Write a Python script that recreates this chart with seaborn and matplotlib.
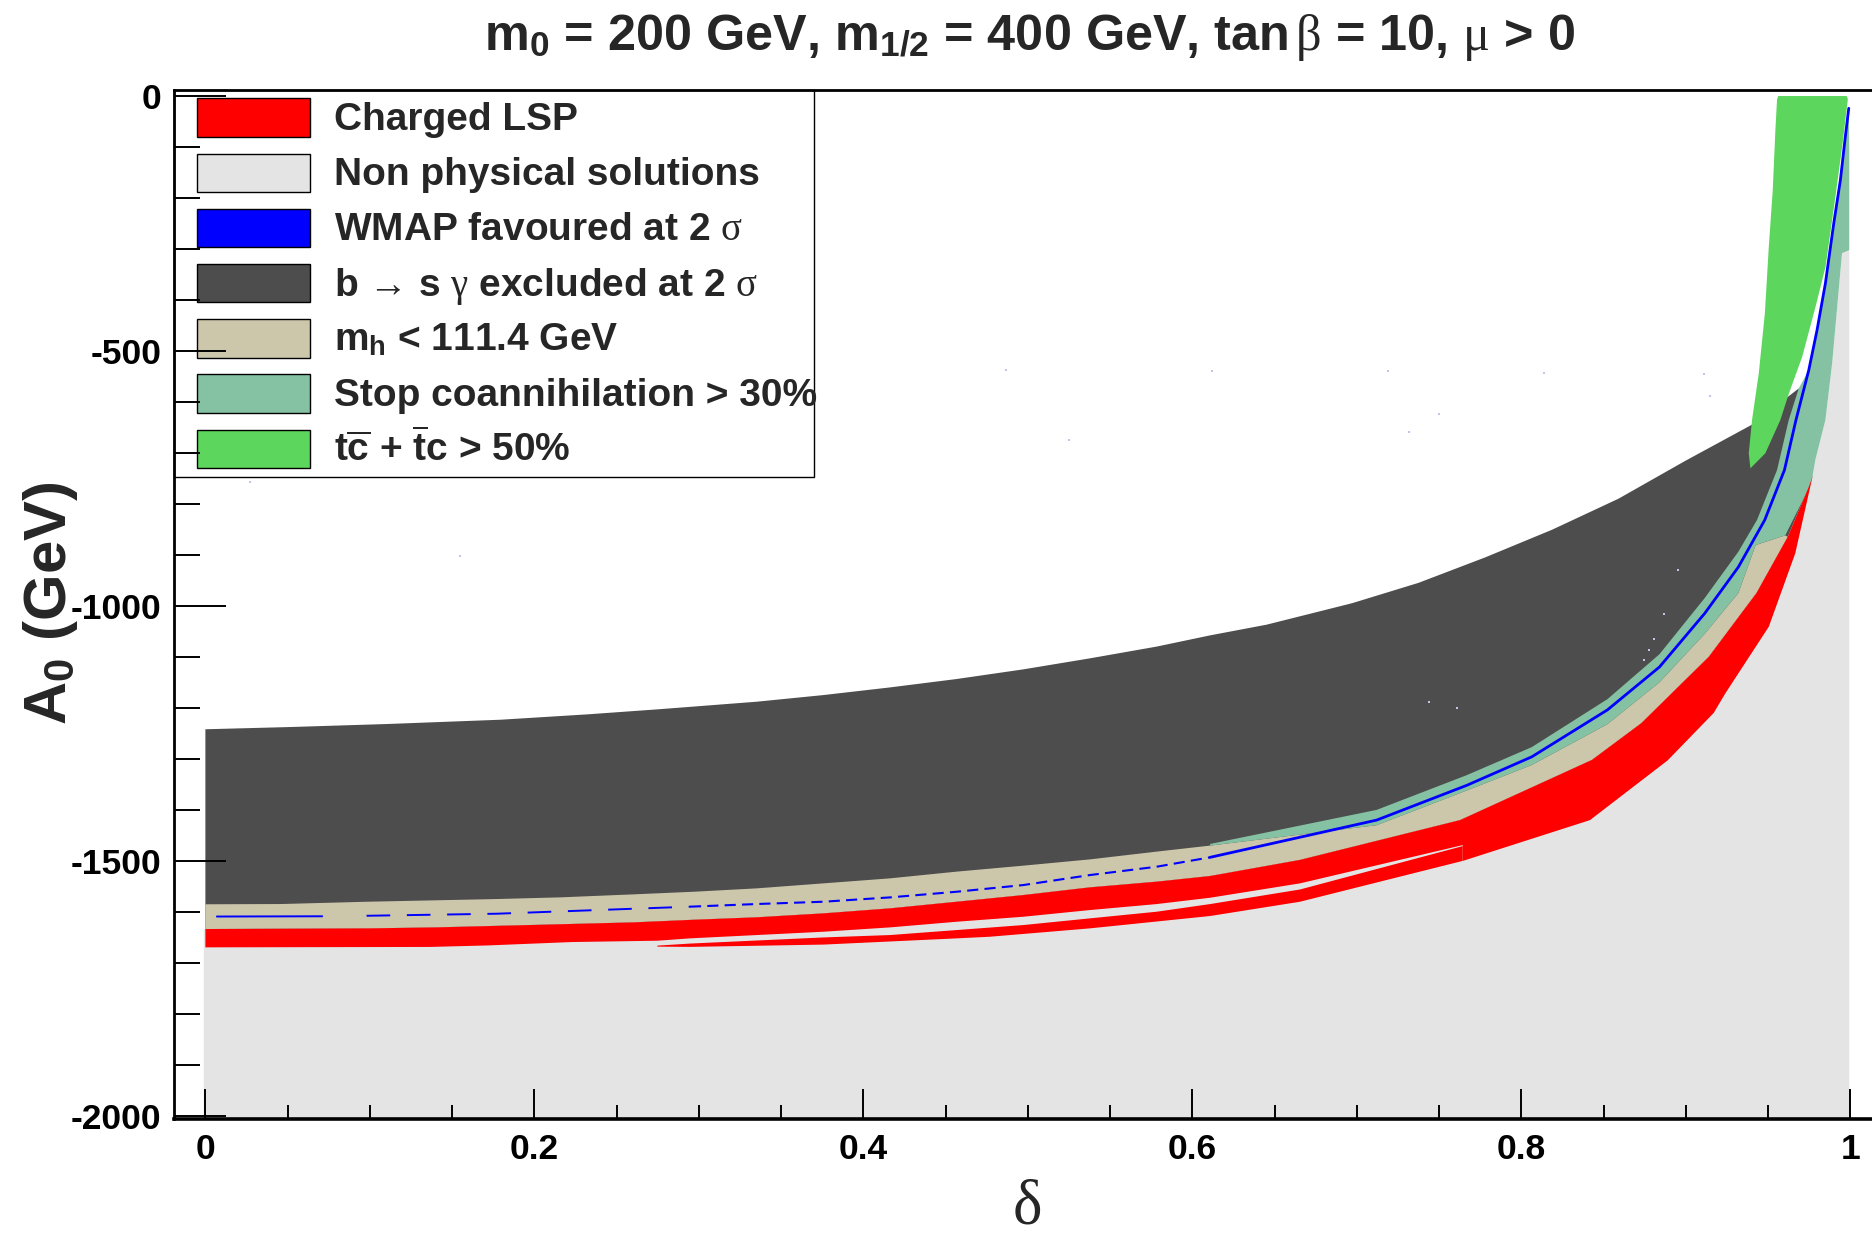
import numpy as np
import pandas as pd
import matplotlib
matplotlib.use("Agg")
import matplotlib.pyplot as plt
import seaborn as sns
from matplotlib.patches import Rectangle

# ---------------- data (delta, A0 in GeV) ----------------
# b -> s gamma excluded region: upper edge and lower edge
dark_top_x = [0.0, 0.0518, 0.1106, 0.1795, 0.2322, 0.2748, 0.297, 0.3352, 0.3757, 0.4162, 0.4568, 0.4973,
              0.5378, 0.5783, 0.6108, 0.6452, 0.6971, 0.7376, 0.7782, 0.8187, 0.8592, 0.8997, 0.9403, 0.9687]
dark_top_y = [-1242, -1237.6, -1231.7, -1223.3, -1212.8, -1203, -1197.5, -1188, -1175, -1160, -1143.5, -1124.6,
              -1103, -1080, -1058, -1037, -995, -955, -905, -851, -790, -716, -645, -574]
dark_bot_x = [0.0, 0.046, 0.0984, 0.1775, 0.216, 0.2606, 0.297, 0.3352, 0.3757, 0.4162, 0.4568, 0.4973, 0.5378,
              0.5783, 0.6108, 0.7121, 0.7668, 0.8064, 0.8524, 0.884, 0.9115, 0.932, 0.9433, 0.9555, 0.9626, 0.9687]
dark_bot_y = [-1585, -1584.5, -1580, -1574.7, -1571.4, -1565.5, -1560.4, -1553.8, -1544, -1534.2, -1521, -1509.3,
              -1497, -1481.8, -1466.8, -1400, -1332, -1277, -1183, -1095, -985, -894, -832, -734, -636, -574]

# stop coannihilation lower edge (= m_h band upper edge on the right)
teal_bot_x = [0.6108, 0.7121, 0.7668, 0.8064, 0.8524, 0.884, 0.9115, 0.932, 0.9425, 0.9605]
teal_bot_y = [-1470, -1430, -1362, -1312, -1232, -1150, -1055, -975, -881, -862]

# charged LSP band
red_top_x = [0.0, 0.1, 0.1409, 0.1977, 0.2606, 0.297, 0.3352, 0.3757, 0.4162, 0.4568, 0.4973, 0.5378, 0.5783,
             0.6108, 0.6655, 0.7628, 0.843, 0.873, 0.914, 0.943, 0.962, 0.9748, 0.977]
red_top_y = [-1633.5, -1632.2, -1630.2, -1625.6, -1620.4, -1615.3, -1610.5, -1602.8, -1593, -1580, -1566.9,
             -1551.8, -1540.7, -1529.6, -1498, -1420, -1302, -1230, -1100, -975, -865, -767, -748]
red_bot_x = [0.0, 0.1364, 0.1713, 0.2228, 0.2748, 0.2946, 0.3352, 0.3757, 0.4162, 0.4568, 0.4973, 0.5378,
             0.5783, 0.6108, 0.6655, 0.7644, 0.7645, 0.8418, 0.889, 0.917, 0.924, 0.9505, 0.9666, 0.977]
red_bot_y = [-1669.4, -1668.6, -1665.7, -1659, -1656.4, -1651.8, -1645.3, -1638.8, -1630.3, -1619.2, -1609.4,
             -1596.3, -1584.6, -1572.2, -1544, -1469, -1500, -1420, -1303, -1210, -1172, -1041, -897, -748]
sliver_top_x = [0.2748, 0.2946, 0.3757, 0.4162, 0.4568, 0.4973, 0.5378, 0.5783, 0.6108, 0.6655, 0.7644]
sliver_top_y = [-1666, -1662, -1650, -1645.3, -1635.5, -1625.7, -1612.6, -1599.6, -1584.6, -1556, -1471]
sliver_bot_x = [0.2748, 0.2946, 0.3757, 0.4568, 0.477, 0.5378, 0.6108, 0.6655, 0.7644]
sliver_bot_y = [-1668, -1668.5, -1664, -1651.8, -1648.6, -1632.2, -1608, -1580, -1500]

# edge of the non-physical region above the charged LSP tip
gray_edge_x = [0.977, 0.9788, 0.9849, 0.989, 0.995, 0.9994]
gray_edge_y = [-748, -714, -636, -525, -309, -303]

# WMAP favoured line
wmap_x = [0.007, 0.071, 0.098, 0.177, 0.2946, 0.3352, 0.3757, 0.4162, 0.4568, 0.4973, 0.5378, 0.5783, 0.6108,
          0.7121, 0.7668, 0.8064, 0.8524, 0.884, 0.9115, 0.932, 0.948, 0.960, 0.967, 0.9748, 0.9798, 0.9849,
          0.990, 0.994, 0.997, 0.9991]
wmap_y = [-1609, -1608.5, -1607.5, -1603.5, -1589.7, -1584.5, -1580, -1571.5, -1560.4, -1547.3, -1527.7,
          -1511.4, -1493, -1420, -1352, -1296, -1204, -1120, -1015, -924, -832, -734, -636, -538, -460, -368,
          -250, -166, -81, -25]

# t cbar + tbar c > 50% region outline
green_x = [0.9393, 0.9383, 0.9403, 0.9444, 0.9481, 0.9505, 0.9529, 0.9545, 0.9555, 0.9562, 0.9978, 0.9985,
           0.9985, 0.9951, 0.991, 0.985, 0.9789, 0.9708, 0.9627, 0.9575, 0.9484]
green_y = [-730.6, -701, -636, -544.5, -427, -296, -185, -67.6, -8, -1, -1, -6,
           -8.8, -100, -198, -335.5, -414, -512, -584, -636, -701]

# scattered isolated WMAP points
stray_x = [0.027, 0.155, 0.487, 0.525, 0.612, 0.719, 0.732, 0.75, 0.814, 0.911, 0.915,
           0.7439, 0.7610, 0.8955, 0.8868, 0.8807, 0.8779, 0.8748]
stray_y = [-758, -903, -538, -676, -540, -540, -660, -624, -543, -545, -589,
           -1188, -1200, -929, -1016, -1065, -1087, -1106]

legend_labels = [
    "Charged LSP",
    "Non physical solutions",
    r"WMAP favoured at 2 $\sigma$",
    "b \u2192 s $\\gamma$ excluded at 2 $\\sigma$",
    r"m$_\mathrm{h}$ < 111.4 GeV",
    "Stop coannihilation > 30%",
    r"t$\overline{\mathrm{c}}$ + $\overline{\mathrm{t}}$c > 50%",
]
legend_colors = ["#ff0000", "#e4e4e4", "#0000ff", "#4d4d4d", "#ccc6aa", "#85c2a3", "#5cd65c"]
col = dict(zip(["red", "gray", "blue", "dark", "tan", "teal", "green"], legend_colors))

x_ticks = [0, 0.2, 0.4, 0.6, 0.8, 1.0]
x_ticklabels = ["0", "0.2", "0.4", "0.6", "0.8", "1"]
y_ticks = [0, -500, -1000, -1500, -2000]
y_ticklabels = ["0", "-500", "-1000", "-1500", "-2000"]

title = r"m$_\mathrm{0}$ = 200 GeV, m$_\mathrm{1/2}$ = 400 GeV, tan$\,\beta$ = 10, $\mu$ > 0"

# ---------------- style ----------------
sns.set_style("ticks")
plt.rcParams.update({
    "font.family": ["Liberation Sans", "DejaVu Sans"],
    "font.weight": "bold",
    "mathtext.fontset": "custom",
    "mathtext.rm": "Liberation Sans:bold",
    "mathtext.bf": "Liberation Sans:bold",
    "mathtext.sf": "Liberation Sans:bold",
    "mathtext.it": "Liberation Serif:weight=normal",
    "lines.scale_dashes": False,
    "axes.edgecolor": "black",
    "xtick.color": "black",
    "ytick.color": "black",
})

W, H = 1872, 1237
fig = plt.figure(figsize=(W / 100, H / 100), dpi=100)
fig.patch.set_facecolor("white")


def fx(px):
    return px / W


def fy(py):
    return 1 - py / H


ax = fig.add_axes([fx(174.3), fy(1119), (1890.7 - 174.3) / W, (1119 - 89.6) / H])
ax.set_facecolor("white")

YB = -2012


def poly(ux, uy, lx, ly):
    return list(ux) + list(lx)[::-1], list(uy) + list(ly)[::-1]


# non-physical region
gx = [-0.001] + red_top_x + gray_edge_x[1:] + [0.9994, -0.001]
gy = [red_top_y[0]] + red_top_y + gray_edge_y[1:] + [YB, YB]
ax.fill(gx, gy, color=col["gray"], lw=0, zorder=1)

# b -> s gamma (extends under the lower bands)
px, py = poly(dark_top_x + [0.977], dark_top_y + [-748], red_top_x, red_top_y)
ax.fill(px, py, color=col["dark"], lw=0, zorder=1)

# m_h band
tan_ux = [x for x in dark_bot_x if x < 0.61] + teal_bot_x
tan_uy = [y for x, y in zip(dark_bot_x, dark_bot_y) if x < 0.61] + teal_bot_y
rt = [(x, y) for x, y in zip(red_top_x, red_top_y) if x <= 0.9621]
px, py = poly(tan_ux, tan_uy, [p[0] for p in rt], [p[1] for p in rt])
ax.fill(px, py, color=col["tan"], lw=0, zorder=1)

# stop coannihilation
t_ux = [x for x in dark_bot_x if x >= 0.61] + [x for x in wmap_x if x > 0.97] + [0.9994]
t_uy = [y for x, y in zip(dark_bot_x, dark_bot_y) if x >= 0.61] + \
       [y for x, y in zip(wmap_x, wmap_y) if x > 0.97] + [-107]
right_x = [0.9994] + gray_edge_x[::-1] + [0.9748]
right_y = [-303] + gray_edge_y[::-1] + [-770]
tx = t_ux + right_x + teal_bot_x[::-1]
ty = t_uy + right_y + teal_bot_y[::-1]
ax.fill(tx, ty, color=col["teal"], lw=0, zorder=1)

# charged LSP
px, py = poly(red_top_x, red_top_y, red_bot_x, red_bot_y)
ax.fill(px, py, color=col["red"], lw=0, zorder=1)
px, py = poly(sliver_top_x, sliver_top_y, sliver_bot_x, sliver_bot_y)
ax.fill(px, py, color=col["red"], lw=0, zorder=1)

# t cbar region
ax.fill(green_x, green_y, color=col["green"], lw=0, zorder=1)

# WMAP line segments
wx = np.array(wmap_x)
wy = np.array(wmap_y)
segA = wx <= 0.075
segB = (wx >= 0.095) & (wx <= 0.2947)
segC = (wx >= 0.2945) & (wx <= 0.6109)
segD = wx >= 0.6107
sns.lineplot(x=wx[segA], y=wy[segA], color=col["blue"], lw=1.4, sort=False, ax=ax, zorder=2)
sns.lineplot(x=wx[segB], y=wy[segB], color=col["blue"], lw=1.4, sort=False, ax=ax, zorder=2,
             linestyle=(0, (17, 12)))
sns.lineplot(x=wx[segC], y=wy[segC], color=col["blue"], lw=1.5, sort=False, ax=ax, zorder=2,
             linestyle=(0, (8, 4.5)))
sns.lineplot(x=wx[segD], y=wy[segD], color=col["blue"], lw=2.0, sort=False, ax=ax, zorder=2)

sns.scatterplot(x=stray_x, y=stray_y, color="#c4c4e8", s=4, marker="s", linewidth=0, ax=ax,
                legend=False, zorder=2)

# ---------------- axes ----------------
ax.set_xlim(-0.0189, 1.0246)
ax.set_ylim(-2005.8, 11.6)
ax.set_xlabel("")
ax.set_ylabel("")
ax.set_xticks(x_ticks)
ax.set_xticklabels(x_ticklabels)
ax.set_xticks(np.arange(0, 1.0001, 0.05), minor=True)
ax.set_yticks(y_ticks)
ax.set_yticklabels(y_ticklabels)
ax.set_yticks(np.arange(-2000, 1, 100), minor=True)
ax.set_axisbelow(False)
ax.tick_params(axis="both", which="both", direction="in", width=1.4, color="black",
               top=False, right=False, labelsize=25.5)
ax.tick_params(axis="y", which="major", length=37.4, pad=9.4)
ax.tick_params(axis="y", which="minor", length=18.7)
ax.tick_params(axis="x", which="major", length=21.6, pad=10)
ax.tick_params(axis="x", which="minor", length=10)
for lab in ax.get_xticklabels() + ax.get_yticklabels():
    lab.set_fontweight("bold")
for s in ["top", "left", "bottom"]:
    ax.spines[s].set_linewidth(2.0)
    ax.spines[s].set_color("black")
ax.spines["bottom"].set_linewidth(2.6)
ax.spines["right"].set_visible(False)

# ---------------- legend (drawn in figure pixel coordinates) ----------------
box = Rectangle((fx(174.3), fy(476.7)), fx(813.5) - fx(174.3), fy(90) - fy(476.7),
                transform=fig.transFigure, facecolor="white", edgecolor="black", lw=1.0,
                zorder=2.1, clip_on=False)
ax.add_patch(box)
row0 = 117.5
dy = 55.2
for i, (lab, c) in enumerate(zip(legend_labels, legend_colors)):
    cy = row0 + i * dy
    r = Rectangle((fx(196.8), fy(cy + 19.2)), fx(309.6) - fx(196.8), fy(cy - 19.2) - fy(cy + 19.2),
                  transform=fig.transFigure, facecolor=c, edgecolor="black", lw=1.0, zorder=2.2,
                  clip_on=False)
    ax.add_patch(r)
    ax.text(fx(334.3), fy(cy + 12.5), lab, transform=fig.transFigure, fontsize=28,
            fontweight="bold", ha="left", va="baseline", zorder=3, clip_on=False)

# ---------------- titles ----------------
fig.text(fx(1030), fy(50), title, ha="center", va="baseline", fontsize=36.3, fontweight="bold")
fig.text(fx(50), fy(603), r"A$_\mathrm{0}$ (GeV)", rotation=90, ha="center", va="center",
         fontsize=43, fontweight="bold")
fig.text(fx(1027), fy(1223), r"$\delta$", ha="center", va="baseline", fontsize=45)

fig.savefig("out.png", dpi=100)
